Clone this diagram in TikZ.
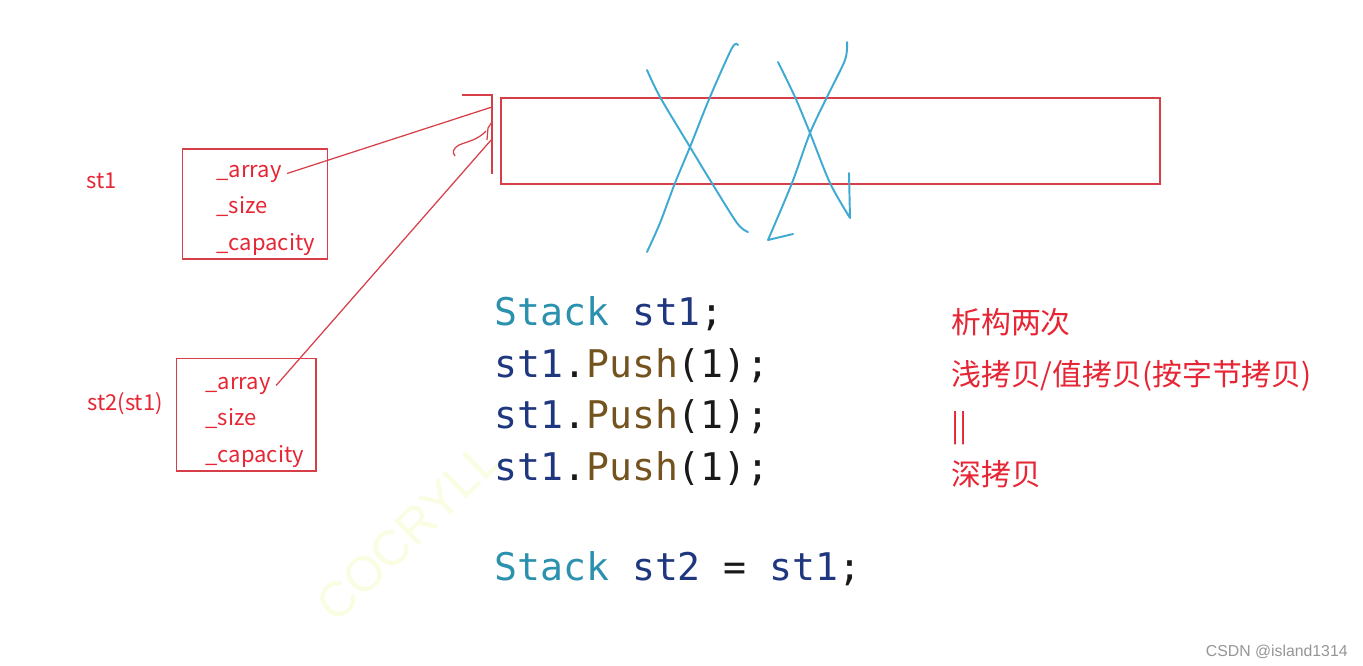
\documentclass[tikz,border=0pt]{standalone}
\usepackage{xcolor}
\usepackage{fontspec}
\setmonofont{DejaVu Sans Mono}
\newfontfamily\cjk{Noto Sans CJK SC}
\newfontfamily\markfont{Liberation Sans}
\usetikzlibrary{positioning}
\definecolor{inkred}{RGB}{214,62,72}
\definecolor{notered}{RGB}{230,38,52}
\definecolor{penblue}{RGB}{62,170,210}
\definecolor{typeteal}{RGB}{43,145,175}
\definecolor{varnavy}{RGB}{31,55,127}
\definecolor{funcbrown}{RGB}{116,83,31}
\definecolor{punctblack}{RGB}{25,25,25}
\definecolor{wmyellow}{RGB}{250,253,226}
\definecolor{csdngray}{RGB}{150,150,150}
\newcommand{\cdtype}[1]{\textcolor{typeteal}{#1}}
\newcommand{\cdvar}[1]{\textcolor{varnavy}{#1}}
\newcommand{\cdfunc}[1]{\textcolor{funcbrown}{#1}}

\begin{document}
\begin{tikzpicture}[
  x=0.02cm, y=-0.02cm,
  framebox/.style={draw=inkred, line width=0.8pt, inner sep=0},
  fieldtext/.style={font=\cjk\fontsize{12.5}{15}\selectfont, text=notered,
    anchor=base west, inner xsep=3pt, inner ysep=0},
  varname/.style={font=\cjk\fontsize{12.5}{15}\selectfont, text=notered,
    anchor=base west, inner sep=0},
  code/.style={font=\ttfamily\fontsize{21.7}{26}\selectfont, text=punctblack,
    anchor=base west, inner sep=0},
  note/.style={font=\cjk\fontsize{17}{20}\selectfont, text=notered,
    anchor=base west, inner sep=0},
  link/.style={draw=inkred, line width=0.7pt},
  pen/.style={draw=penblue, line width=1.1pt, line cap=round, line join=round}
]
\fill[white] (0,0) rectangle (1363,666);
\useasboundingbox (0,0) rectangle (1363,666);

% watermark
\node[font=\markfont\fontsize{28}{30}\selectfont, text=wmyellow, rotate=44,
  inner sep=0] (wmark) at (408,532) {COCRYLL};

% heap block
\node[framebox, minimum width=13.18cm, minimum height=1.726cm] (heapbox)
  at (830.5,141) {};
\draw[link] (462,95) -- (492,95) -- (492,174);
\coordinate (tip1) at (492,107);
\coordinate (tip2) at (492,139);
\draw[link] (492,122) -- (488,128) -- (487,140);
\draw[link] (486,131) .. controls (478,140) and (466,142) .. (459,145)
  .. controls (453,148) and (452,153) .. (455,156);

% objects
\node[framebox, minimum width=2.908cm, minimum height=2.2cm] (st1box)
  at (255,204) {};
\node[framebox, minimum width=2.786cm, minimum height=2.254cm] (st2box)
  at (246.35,414.65) {};
\node[varname] (st1name) at (86,188) {st1};
\node[varname] (st2name) at (87,410) {st2(st1)};

\node[fieldtext] (st1arr) at (211,177) {\_array};
\node[fieldtext] (st1size) at (211,213) {\_size};
\node[fieldtext] (st1cap) at (211,250) {\_capacity};
\node[fieldtext] (st2arr) at (200,389) {\_array};
\node[fieldtext] (st2size) at (200,425) {\_size};
\node[fieldtext] (st2cap) at (200,462) {\_capacity};

\draw[link] (st1arr.east) -- (tip1);
\draw[link] (st2arr.east) -- (tip2);

% crossed out
\draw[pen] plot[smooth] coordinates {(647,70) (660,97) (690,147) (710,180)
  (737,223) (748,232)};
\draw[pen] plot[smooth] coordinates {(738,45) (732,48) (710,97) (690,147)
  (675,183) (660,223) (647,252)};
\draw[pen] plot[smooth] coordinates {(778,62) (795,97) (810,133) (830,183)
  (850,218)} -- (849,173);
\draw[pen] plot[smooth] coordinates {(847,42) (845,60) (827,97) (810,133)
  (792,183) (768,240)} -- (793,234);

% code
\node[code] (line1) at (494,325) {\cdtype{Stack} \cdvar{st1};};
\node[code] (line2) at (494,377) {\cdvar{st1}.\cdfunc{Push}(1);};
\node[code] (line3) at (494,428) {\cdvar{st1}.\cdfunc{Push}(1);};
\node[code] (line4) at (494,480) {\cdvar{st1}.\cdfunc{Push}(1);};
\node[code] (line5) at (494,580) {\cdtype{Stack} \cdvar{st2} = \cdvar{st1};};

% notes
\node[note] (note1) at (951,333) {析构两次};
\node[note] (note2) at (951,385) {浅拷贝/值拷贝(按字节拷贝)};
\node[note] (note3) at (951,436) {||};
\node[note] (note4) at (951,485) {深拷贝};

\node[font=\markfont\fontsize{9}{10}\selectfont, text=csdngray, anchor=base east,
  inner sep=0] (csdn) at (1348,656) {CSDN @island1314};
\end{tikzpicture}
\end{document}
